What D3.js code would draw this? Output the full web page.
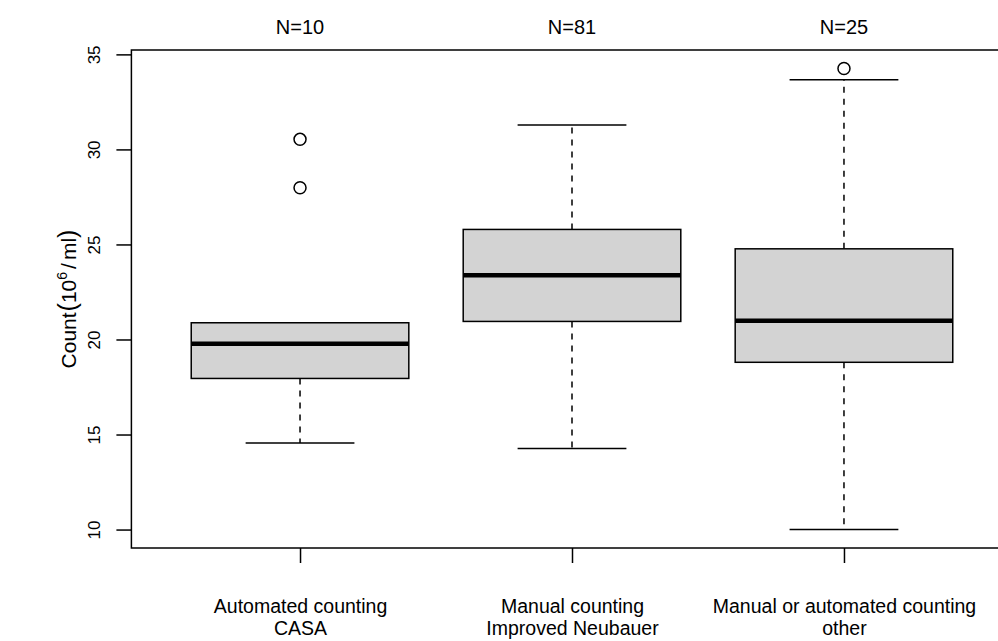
<!DOCTYPE html>
<html>
<head>
<meta charset="utf-8">
<script src="https://cdn.jsdelivr.net/npm/d3@7"></script>
<style>
  body { margin: 0; background: #fff; }
  text { font-family: "Liberation Sans", Arial, Helvetica, sans-serif; fill: #000; }
</style>
</head>
<body>
<svg id="chart" width="998" height="641"></svg>
<script>
// values
const groups = [
  ["Automated counting", "CASA"],
  ["Manual counting", "Improved Neubauer"],
  ["Manual or automated counting", "other"],
];
const counts = [10, 81, 25];
const whiskerLow = [14.56, 14.27, 10.0];
const q1 = [17.95, 20.95, 18.8];
const medians = [19.78, 23.38, 20.98];
const q3 = [20.88, 25.79, 24.77];
const whiskerHigh = [20.88, 31.28, 33.67];
const outliers = [[27.98, 30.53], [], [34.26]];
const yTicks = [10, 15, 20, 25, 30, 35];

const svg = d3.select("#chart");
const plot = { left: 131.4, right: 1012.6, top: 50, bottom: 548 };

const boxes = groups.map((g, i) => ({
  pos: i + 1,
  label: g,
  n: counts[i],
  lo: whiskerLow[i],
  q1: q1[i],
  med: medians[i],
  q3: q3[i],
  hi: whiskerHigh[i],
  out: outliers[i],
}));

// R style 4% padding on both scales
const allVals = boxes.flatMap((b) => [b.lo, b.hi, ...b.out]);
const [yMin, yMax] = d3.extent(allVals);
const yPad = (yMax - yMin) * 0.04;
const xPad = groups.length * 0.04;

const x = d3
  .scaleLinear()
  .domain([0.5 - xPad, groups.length + 0.5 + xPad])
  .range([plot.left, plot.right]);
const y = d3
  .scaleLinear()
  .domain([yMin - yPad, yMax + yPad])
  .range([plot.bottom, plot.top]);

const boxHalf = 0.4;
const capHalf = 0.2;

const item = svg
  .append("g")
  .attr("class", "boxes")
  .selectAll("g")
  .data(boxes)
  .join("g");

// whiskers (dashed)
[["q3", "hi"], ["q1", "lo"]].forEach(([a, b]) => {
  item
    .append("line")
    .attr("x1", (d) => x(d.pos))
    .attr("x2", (d) => x(d.pos))
    .attr("y1", (d) => y(d[a]))
    .attr("y2", (d) => y(d[b]))
    .attr("stroke", "#000")
    .attr("stroke-width", 1.5)
    .attr("stroke-dasharray", "6,6");
});

// staples
["lo", "hi"].forEach((k) => {
  item
    .append("line")
    .attr("x1", (d) => x(d.pos - capHalf))
    .attr("x2", (d) => x(d.pos + capHalf))
    .attr("y1", (d) => y(d[k]))
    .attr("y2", (d) => y(d[k]))
    .attr("stroke", "#000")
    .attr("stroke-width", 1.5);
});

// boxes
item
  .append("rect")
  .attr("x", (d) => x(d.pos - boxHalf))
  .attr("width", (d) => x(d.pos + boxHalf) - x(d.pos - boxHalf))
  .attr("y", (d) => y(d.q3))
  .attr("height", (d) => y(d.q1) - y(d.q3))
  .attr("fill", "#d3d3d3")
  .attr("stroke", "#000")
  .attr("stroke-width", 1.5);

// medians
item
  .append("line")
  .attr("x1", (d) => x(d.pos - boxHalf))
  .attr("x2", (d) => x(d.pos + boxHalf))
  .attr("y1", (d) => y(d.med))
  .attr("y2", (d) => y(d.med))
  .attr("stroke", "#000")
  .attr("stroke-width", 4.5);

// outliers
item
  .selectAll("circle")
  .data((d) => d.out.map((v) => ({ pos: d.pos, v })))
  .join("circle")
  .attr("cx", (d) => x(d.pos))
  .attr("cy", (d) => y(d.v))
  .attr("r", 6)
  .attr("fill", "none")
  .attr("stroke", "#000")
  .attr("stroke-width", 1.5);

// frame
svg
  .append("rect")
  .attr("x", plot.left)
  .attr("y", plot.top)
  .attr("width", plot.right - plot.left)
  .attr("height", plot.bottom - plot.top)
  .attr("fill", "none")
  .attr("stroke", "#000")
  .attr("stroke-width", 1.5);

// left axis
svg
  .append("g")
  .attr("transform", `translate(${plot.left},0)`)
  .call(d3.axisLeft(y).tickValues(yTicks).tickSize(15).tickSizeOuter(0))
  .call((a) => a.select(".domain").remove())
  .call((a) => a.selectAll(".tick line").attr("stroke-width", 1.5))
  .call((a) =>
    a
      .selectAll(".tick text")
      .attr("x", null)
      .attr("dy", null)
      .attr("y", -31)
      .attr("transform", "rotate(-90)")
      .attr("text-anchor", "middle")
      .style("font-size", "17px")
      .style("font-family", '"Liberation Sans", Arial, sans-serif')
  );

// bottom axis
const xAxis = svg
  .append("g")
  .attr("transform", `translate(0,${plot.bottom})`)
  .call(
    d3
      .axisBottom(x)
      .tickValues(boxes.map((b) => b.pos))
      .tickSize(15)
      .tickSizeOuter(0)
      .tickFormat("")
  )
  .call((a) => a.select(".domain").remove())
  .call((a) => a.selectAll(".tick line").attr("stroke-width", 1.5));

// two-line category labels, one text per line
xAxis
  .selectAll(".tick")
  .data(boxes)
  .selectAll("text.lab")
  .data((d) => d.label)
  .join("text")
  .attr("class", "lab")
  .attr("text-anchor", "middle")
  .style("font-size", "19.5px")
  .style("font-family", '"Liberation Sans", Arial, sans-serif')
  .attr("fill", "#000")
  .attr("x", 0)
  .attr("y", (d, i) => 65 + i * 22)
  .text((d) => d);

// N labels on top
svg
  .append("g")
  .selectAll("text")
  .data(boxes)
  .join("text")
  .attr("x", (d) => x(d.pos))
  .attr("y", 34)
  .attr("text-anchor", "middle")
  .style("font-size", "20px")
  .text((d) => `N=${d.n}`);

// y label with superscript
const yl = svg
  .append("text")
  .attr("transform", `translate(76,${(plot.top + plot.bottom) / 2}) rotate(-90)`)
  .attr("text-anchor", "middle")
  .style("font-size", "21px");
yl.append("tspan").text("Count");
yl.append("tspan").style("font-size", "25px").attr("dx", 1).text("(");
yl.append("tspan").text("10");
yl.append("tspan").attr("dy", -9).style("font-size", "14px").text("6");
yl.append("tspan").attr("dy", 9).attr("dx", 3).text("/");
yl.append("tspan").attr("dx", 3).text("ml");
yl.append("tspan").style("font-size", "25px").text(")");
</script>
</body>
</html>
